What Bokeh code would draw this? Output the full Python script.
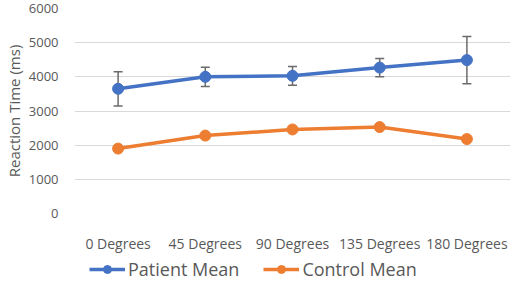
from bokeh.plotting import figure
from bokeh.layouts import column
from bokeh.models import ColumnDataSource, Whisker, TeeHead, Legend, LegendItem, FactorRange, Range1d, SingleIntervalTicker
from bokeh.embed import file_html
from bokeh.resources import INLINE

categories = ["0 Degrees", "45 Degrees", "90 Degrees", "135 Degrees", "180 Degrees"]
patient_mean = [3650, 4000, 4030, 4270, 4490]
patient_err = [500, 280, 275, 270, 690]
control_mean = [1900, 2280, 2460, 2530, 2180]
y_label = "Reaction Time (ms)"
series_names = ["Patient Mean", "Control Mean"]

FONT = "Open Sans"
TXT = "#595959"
BLUE = "#4472C4"
ORANGE = "#ED7D31"
ERR = "#6b6b6b"

p = figure(frame_width=436, frame_height=205, x_range=FactorRange(*categories, range_padding=0),
           y_range=Range1d(0, 6000), output_backend="svg", toolbar_location=None,
           min_border_left=62, min_border_right=2, min_border_top=8, min_border_bottom=4)
p.outline_line_color = None
p.background_fill_color = "white"

src = ColumnDataSource(dict(
    x=categories, pm=patient_mean, cm=control_mean,
    up=[m + e for m, e in zip(patient_mean, patient_err)],
    lo=[m - e for m, e in zip(patient_mean, patient_err)],
))

w = Whisker(base="x", upper="up", lower="lo", source=src, line_color=ERR, line_width=1.5,
            upper_head=TeeHead(size=9, line_color=ERR, line_width=1.5),
            lower_head=TeeHead(size=9, line_color=ERR, line_width=1.5))
w.level = "underlay"
p.add_layout(w)

p.line("x", "pm", source=src, line_color=BLUE, line_width=3.5)
p.scatter("x", "pm", source=src, size=11, fill_color=BLUE, line_color=BLUE)
p.line("x", "cm", source=src, line_color=ORANGE, line_width=3.5)
p.scatter("x", "cm", source=src, size=11, fill_color=ORANGE, line_color=ORANGE)

p.xgrid.grid_line_color = None
p.ygrid.grid_line_color = "#d9d9d9"
p.ygrid.grid_line_width = 1.2
p.yaxis.ticker = SingleIntervalTicker(interval=1000)

for ax in (p.xaxis, p.yaxis):
    ax.axis_line_color = None
    ax.major_tick_line_color = None
    ax.minor_tick_line_color = None
    ax.major_label_text_font = FONT
    ax.major_label_text_color = TXT
    ax.major_label_text_font_size = "13px"
p.xaxis.major_label_text_font_size = "14px"
p.xaxis.major_label_standoff = 14
p.yaxis.major_label_standoff = 10
p.yaxis.axis_label = y_label
p.yaxis.axis_label_text_font = FONT
p.yaxis.axis_label_text_font_style = "normal"
p.yaxis.axis_label_text_font_size = "15px"
p.yaxis.axis_label_text_color = TXT
p.yaxis.axis_label_standoff = 2

# legend strip below the chart (swatch renderers sit outside the strip's visible range)
lg = figure(width=500, height=28, output_backend="svg", toolbar_location=None,
            x_range=Range1d(0, 1), y_range=Range1d(0, 1),
            min_border_left=0, min_border_right=0, min_border_top=0, min_border_bottom=0)
lg.axis.visible = False
lg.grid.grid_line_color = None
lg.outline_line_color = None
swatch = ColumnDataSource(dict(x=[-5, -4], y=[-5, -4]))
a1 = lg.line("x", "y", source=swatch, line_color=BLUE, line_width=3.5)
b1 = lg.scatter("x", "y", source=swatch, size=11, fill_color=BLUE, line_color=BLUE)
a2 = lg.line("x", "y", source=swatch, line_color=ORANGE, line_width=3.5)
b2 = lg.scatter("x", "y", source=swatch, size=11, fill_color=ORANGE, line_color=ORANGE)
legend = Legend(items=[LegendItem(label=series_names[0], renderers=[a1, b1]),
                       LegendItem(label=series_names[1], renderers=[a2, b2])],
                orientation="horizontal", location=(15, 2), border_line_color=None,
                background_fill_alpha=0,
                label_text_font=FONT, label_text_font_size="18px", label_text_color=TXT,
                glyph_width=36, spacing=24, padding=0, margin=0, label_standoff=3)
lg.add_layout(legend, "center")

layout = column(p, lg, spacing=0)
open("out.html", "w").write(file_html(layout, INLINE))
